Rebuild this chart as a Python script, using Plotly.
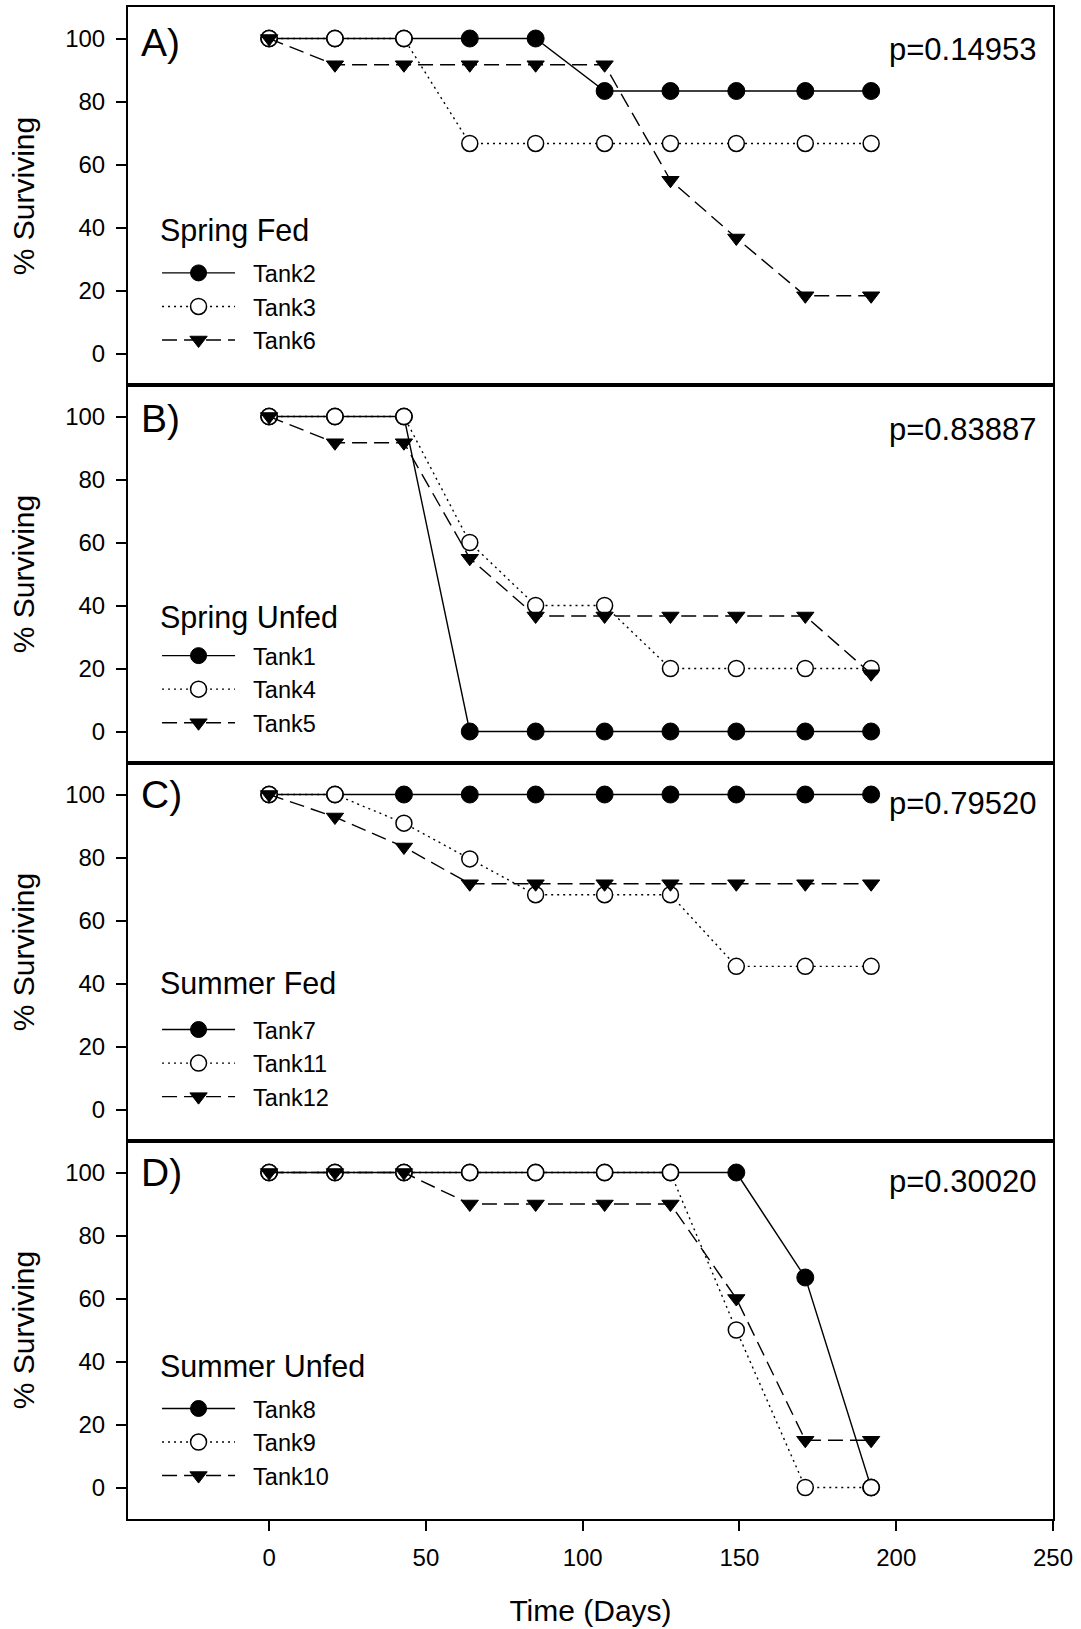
import plotly.graph_objects as go
from plotly.subplots import make_subplots

# ---------------- data ----------------
days = [0, 21, 43, 64, 85, 107, 128, 149, 171, 192]

panel_labels = ["A)", "B)", "C)", "D)"]
group_names = ["Spring Fed", "Spring Unfed", "Summer Fed", "Summer Unfed"]
p_values = ["p=0.14953", "p=0.83887", "p=0.79520", "p=0.30020"]

tank_names = [
    ["Tank2", "Tank3", "Tank6"],
    ["Tank1", "Tank4", "Tank5"],
    ["Tank7", "Tank11", "Tank12"],
    ["Tank8", "Tank9", "Tank10"],
]

spring_fed_tank2 = [100, 100, 100, 100, 100, 83.33, 83.33, 83.33, 83.33, 83.33]
spring_fed_tank3 = [100, 100, 100, 66.67, 66.67, 66.67, 66.67, 66.67, 66.67, 66.67]
spring_fed_tank6 = [100, 91.67, 91.67, 91.67, 91.67, 91.67, 55.0, 36.67, 18.33, 18.33]

spring_unfed_tank1 = [100, 100, 100, 0, 0, 0, 0, 0, 0, 0]
spring_unfed_tank4 = [100, 100, 100, 60, 40, 40, 20, 20, 20, 20]
spring_unfed_tank5 = [100, 91.67, 91.67, 55.0, 36.67, 36.67, 36.67, 36.67, 36.67, 18.33]

summer_fed_tank7 = [100, 100, 100, 100, 100, 100, 100, 100, 100, 100]
summer_fed_tank11 = [100, 100, 90.91, 79.55, 68.18, 68.18, 68.18, 45.45, 45.45, 45.45]
summer_fed_tank12 = [100, 92.86, 83.33, 71.67, 71.67, 71.67, 71.67, 71.67, 71.67, 71.67]

summer_unfed_tank8 = [100, 100, 100, 100, 100, 100, 100, 100, 66.67, 0]
summer_unfed_tank9 = [100, 100, 100, 100, 100, 100, 100, 50, 0, 0]
summer_unfed_tank10 = [100, 100, 100, 90, 90, 90, 90, 60, 15, 15]

panel_series = [
    [spring_fed_tank2, spring_fed_tank3, spring_fed_tank6],
    [spring_unfed_tank1, spring_unfed_tank4, spring_unfed_tank5],
    [summer_fed_tank7, summer_fed_tank11, summer_fed_tank12],
    [summer_unfed_tank8, summer_unfed_tank9, summer_unfed_tank10],
]

y_ticks = [0, 20, 40, 60, 80, 100]
x_ticks = [0, 50, 100, 150, 200, 250]

# ---------------- styling ----------------
FONT = "Liberation Sans, Arial, sans-serif"
styles = [
    dict(line=dict(color="black", width=1.4, dash="solid"),
         marker=dict(symbol="circle", size=17, color="black", line=dict(color="black", width=1))),
    dict(line=dict(color="black", width=1.4, dash="2px,4px"),
         marker=dict(symbol="circle", size=16, color="white", line=dict(color="black", width=1.5))),
    dict(line=dict(color="black", width=1.4, dash="15px,7px"),
         marker=dict(symbol="triangle-down", size=15, color="black", line=dict(color="black", width=1))),
]

legend_top_vals = [32.5, 31.0, 32.3, 32.0]
group_vals = [39.0, 36.3, 40.1, 38.7]
label_vals = [98.7, 99.3, 100.0, 100.0]
p_vals = [96.4, 95.8, 97.3, 97.3]

fig = make_subplots(rows=4, cols=1, shared_xaxes=False, vertical_spacing=0)

legend_ids = ["legend", "legend2", "legend3", "legend4"]
PAD = "\u00a0\u00a0"

for r in range(4):
    for k in range(3):
        fig.add_trace(
            go.Scatter(
                x=days, y=panel_series[r][k], name=PAD + tank_names[r][k],
                mode="lines+markers", legend=legend_ids[r],
                line=styles[k]["line"], marker=styles[k]["marker"],
            ),
            row=r + 1, col=1,
        )

def paper_y(r, v):
    return (1 - (r + 1) * 0.25) + (v + 10) / 120 * 0.25

layout_legends = {}
for r in range(4):
    layout_legends[legend_ids[r]] = dict(
        font=dict(family=FONT, size=23.5, color="black"),
        x=0.0314, xanchor="left",
        y=paper_y(r, legend_top_vals[r]), yanchor="top",
        bgcolor="rgba(0,0,0,0)", borderwidth=0,
        itemwidth=73, tracegroupgap=0,
        itemclick=False, itemdoubleclick=False,
    )
fig.update_layout(**layout_legends)

for r in range(4):
    xa = "x" if r == 0 else f"x{r+1}"
    ya = "y" if r == 0 else f"y{r+1}"
    fig.add_annotation(text=panel_labels[r], xref=f"{xa} domain", yref=ya,
                       x=0, y=label_vals[r], xanchor="left", yanchor="middle", xshift=11,
                       showarrow=False, font=dict(family=FONT, size=39, color="black"))
    fig.add_annotation(text=p_values[r], xref=f"{xa} domain", yref=ya,
                       x=1, y=p_vals[r], xanchor="right", yanchor="middle", xshift=-15,
                       showarrow=False, font=dict(family=FONT, size=31, color="black"))
    fig.add_annotation(text=group_names[r], xref=f"{xa} domain", yref=ya,
                       x=0, y=group_vals[r], xanchor="left", yanchor="middle", xshift=30,
                       showarrow=False, font=dict(family=FONT, size=30.5, color="black"))

for r in range(4):
    fig.update_yaxes(
        range=[-10, 110], tickvals=y_ticks, ticks="outside", ticklen=10, tickwidth=1.5,
        tickcolor="black", showline=True, linecolor="black", linewidth=2, mirror=True,
        showgrid=False, zeroline=False, ticklabelstandoff=6,
        tickfont=dict(family=FONT, size=24, color="black"),
        title=dict(text="% Surviving", font=dict(family=FONT, size=30, color="black"), standoff=22),
        row=r + 1, col=1,
    )
    bottom = (r == 3)
    fig.update_xaxes(
        range=[-45, 250], tickvals=x_ticks, ticks="outside" if bottom else "",
        ticklen=10, tickwidth=1.5, tickcolor="black",
        showticklabels=bottom, showline=True, linecolor="black", linewidth=2, mirror=True,
        showgrid=False, zeroline=False, ticklabelstandoff=6,
        tickfont=dict(family=FONT, size=24, color="black"),
        row=r + 1, col=1,
    )
fig.update_xaxes(title=dict(text="Time (Days)", font=dict(family=FONT, size=30, color="black"), standoff=30),
                 row=4, col=1)

fig.update_layout(
    width=1081, height=1629,
    margin=dict(l=128, r=28, t=7, b=110, autoexpand=False),
    paper_bgcolor="white", plot_bgcolor="white",
    font=dict(family=FONT, color="black"),
)

fig.write_html("out.html")
